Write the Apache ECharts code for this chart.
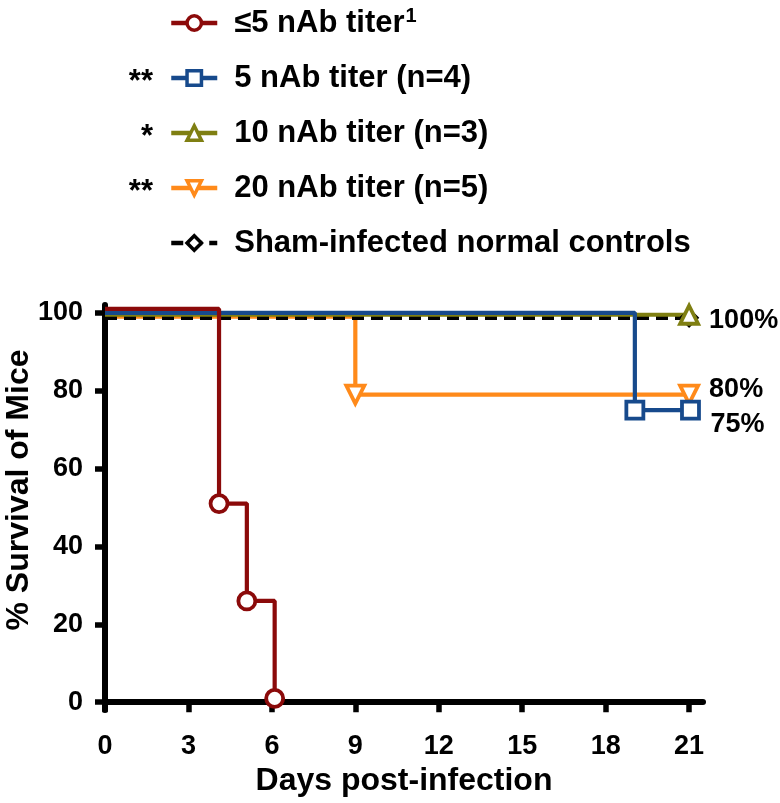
<!DOCTYPE html>
<html>
<head>
<meta charset="utf-8">
<script src="https://cdn.jsdelivr.net/npm/echarts@6/dist/echarts.min.js"></script>
<style>html,body{margin:0;padding:0;background:#fff}#c{width:780px;height:803px}</style>
</head>
<body>
<div id="c"></div>
<script>
// ---- data ----
const groupNames = ['≤5 nAb titer', '5 nAb titer (n=4)', '10 nAb titer (n=3)', '20 nAb titer (n=5)', 'Sham-infected normal controls'];
const significance = ['', '**', '*', '**', ''];
const endLabels = ['', '75%', '100%', '80%', ''];
// days and % survival (small offsets as drawn in the figure to keep overlapping lines visible)
const lowDays = [0, 4.1, 5.1, 6.1];
const lowSurv = [101, 51, 26, 1];
const t5Days = [0, 19.05, 21.05];
const t5Surv = [100, 75, 75];
const t10Days = [0, 21];
const t10Surv = [99.5, 99.5];
const t20Days = [0, 9, 21];
const t20Surv = [99, 79, 79];
const shamDays = [0, 21];
const shamSurv = [98.7, 98.7];
const xTicks = [0, 3, 6, 9, 12, 15, 18, 21];
const yTicks = [0, 20, 40, 60, 80, 100];

const FONT = '"Liberation Sans", Arial, Helvetica, sans-serif';
const colors = ['#8b0a0a', '#174a8c', '#7f7f12', '#ff8a1a', '#000000'];
const symbols = ['circle', 'rect', 'triangle', 'triangle', 'diamond'];
const rotates = [0, 0, 0, 180, 0];
const sizes = [17, 17, 18, 18, 15];

function pts(xs, ys) {
  return xs.map((x, i) => i === 0 ? { value: [x, ys[i]], symbol: 'none' } : { value: [x, ys[i]] });
}
const allData = [
  pts(lowDays, lowSurv), pts(t5Days, t5Surv), pts(t10Days, t10Surv), pts(t20Days, t20Surv), pts(shamDays, shamSurv)
];
const offsets = [[0,0],[0,14],[0,6],[0,-5],[0,0]];

function makeSeries(i) {
  return {
    type: 'line', name: groupNames[i], step: 'end', data: allData[i],
    symbol: symbols[i], symbolSize: sizes[i],
    symbolRotate: rotates[i], showAllSymbol: true, clip: false,
    lineStyle: { color: colors[i], width: 4.2, type: i === 4 ? [12, 7] : 'solid' },
    itemStyle: { color: '#fff', borderColor: colors[i], borderWidth: 3.8 },
    emphasis: { disabled: true },
    endLabel: {
      show: endLabels[i] !== '', formatter: () => endLabels[i], distance: 20, offset: offsets[i],
      fontSize: 27, fontWeight: 'bold', fontFamily: FONT, color: '#000'
    },
    z: 2
  };
}
// draw order: orange, sham, olive, blue, red
const order = [3, 4, 2, 1, 0];

const chart = echarts.init(document.getElementById('c'), null, { renderer: 'canvas' });
chart.setOption({
  animation: false,
  backgroundColor: '#fff',
  grid: { left: 105, right: 77, top: 305, bottom: 93, containLabel: false },
  xAxis: {
    type: 'value', min: 0, max: 21.5,
    name: 'Days post-infection', nameLocation: 'middle', nameGap: 48,
    nameTextStyle: { fontSize: 32, fontWeight: 'bold', fontFamily: FONT, color: '#000' },
    axisLine: { onZero: true, lineStyle: { color: '#000', width: 6 } },
    axisTick: { show: true, length: 10, lineStyle: { color: '#000', width: 5.5 }, customValues: xTicks },
    axisLabel: { customValues: xTicks, margin: 23, fontSize: 27, fontWeight: 'bold', fontFamily: FONT, color: '#000' },
    splitLine: { show: false }
  },
  yAxis: {
    type: 'value', min: -2, max: 102,
    axisLine: { show: true, onZero: false, lineStyle: { color: '#000', width: 6 } },
    axisTick: { show: true, length: 10, lineStyle: { color: '#000', width: 5.5 }, customValues: yTicks },
    axisLabel: { customValues: yTicks, margin: 22, fontSize: 27, fontWeight: 'bold', fontFamily: FONT, color: '#000' },
    splitLine: { show: false }
  },
  legend: {
    orient: 'vertical', left: 164, top: 1, itemWidth: 46, itemHeight: 18, itemGap: 21,
    data: groupNames, selectedMode: false,
    lineStyle: { width: 4.5 },
    itemStyle: { borderWidth: 3.5 },
    formatter: (n) => n === groupNames[0] ? n + '{sup|1}' : n,
    textStyle: {
      fontSize: 31, fontWeight: 'bold', fontFamily: FONT, color: '#000', lineHeight: 34,
      padding: [0, 0, 0, 12],
      rich: { sup: { fontSize: 20, fontWeight: 'bold', fontFamily: FONT, color: '#000', verticalAlign: 'top', lineHeight: 20, padding: [0, 0, 10, 1] } }
    }
  },
  graphic: [
    ...significance.map((s, i) => ({
      type: 'text', right: 780 - 153, top: 2 + i * 55 + 10,
      style: { text: s, fontSize: 31, fontWeight: 'bold', fontFamily: FONT, fill: '#000', textAlign: 'right' }
    })).filter((g, i) => significance[i] !== ''),
    {
      type: 'text', x: 19, y: 490, rotation: Math.PI / 2,
      style: { text: '% Survival of Mice', fontSize: 32, fontWeight: 'bold', fontFamily: FONT, fill: '#000', textAlign: 'center', textVerticalAlign: 'middle' }
    }
  ],
  series: order.map(makeSeries)
});
</script>
</body>
</html>
